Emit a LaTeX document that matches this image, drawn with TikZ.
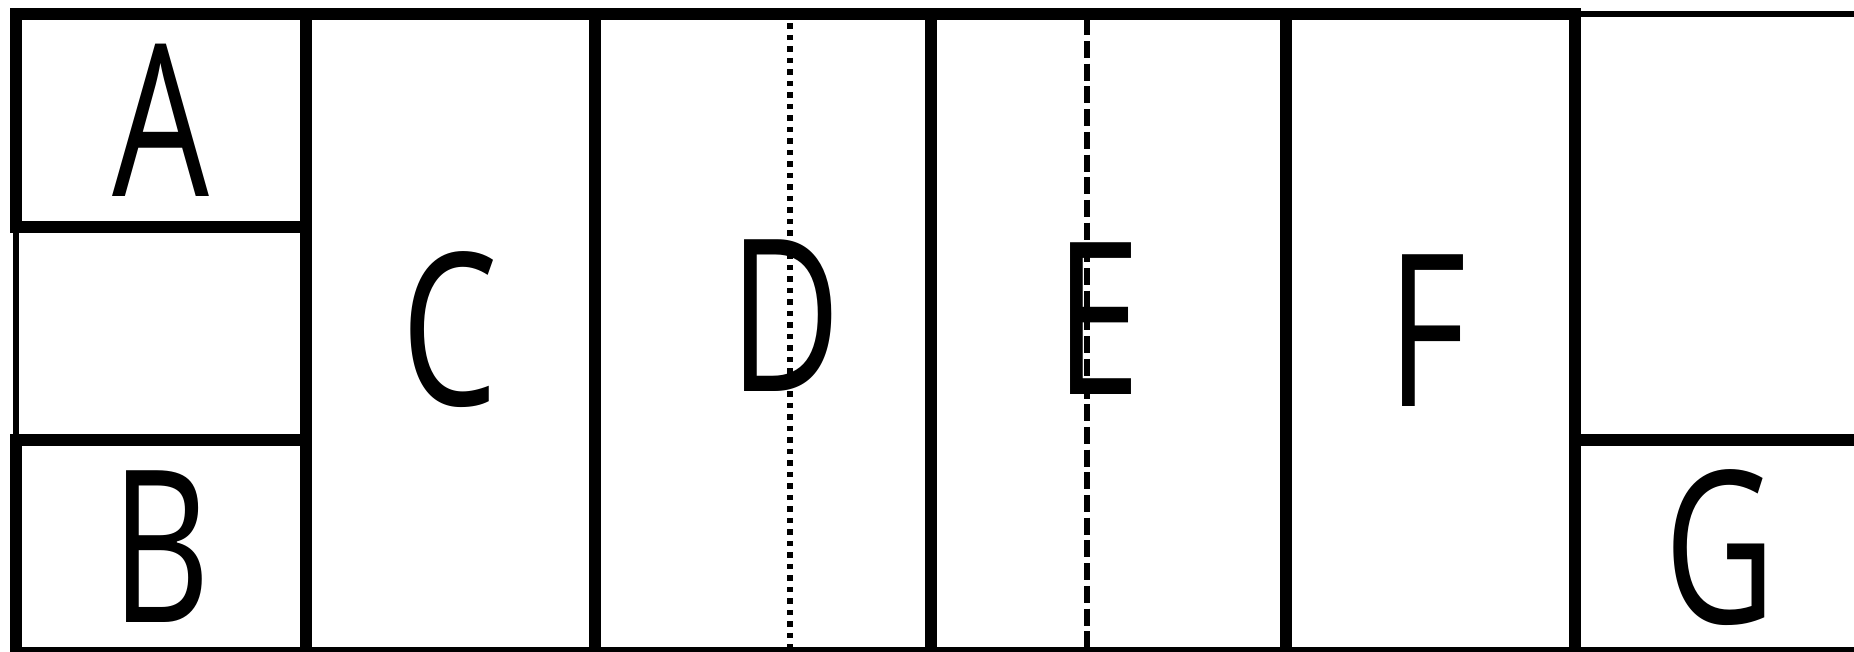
\documentclass[tikz,border=0pt]{standalone}
\usepackage{fontspec}
\setmainfont{Open Sans}

\begin{document}
\begin{tikzpicture}[
  cell/.style={draw=black,line width=1.2mm},
  thincell/.style={draw=black,line width=0.6mm},
  letter/.style={inner sep=0pt,xscale=0.72,font=\fontsize{60.5}{60}\selectfont}]
\useasboundingbox (0,0) rectangle (18.54,6.51);
\clip (0,0) rectangle (18.54,6.51);
% thin cells first, thick ones drawn over them
\draw[thincell] (0.16,4.24) rectangle (3.06,2.11);
\draw[thincell] (15.75,6.37) rectangle (18.65,2.11);
\draw[cell] (0.16,6.37) rectangle (3.06,4.24);
\draw[cell] (0.16,2.11) rectangle (3.06,-0.02);
\draw[cell] (3.06,6.37) rectangle (5.95,-0.02);
\draw[cell] (5.95,6.37) rectangle (9.31,-0.02);
\draw[cell] (9.31,6.37) rectangle (12.86,-0.02);
\draw[cell] (12.86,6.37) rectangle (15.75,-0.02);
\draw[cell] (15.75,2.11) rectangle (18.65,-0.02);
% inner guide lines
\coordinate (dtop) at (7.90,6.37);
\coordinate (dbot) at (7.90,-0.02);
\coordinate (etop) at (10.87,6.37);
\coordinate (ebot) at (10.87,-0.02);
\draw[line width=0.6mm,dash pattern=on 0.055cm off 0.06cm,dash phase=0.022cm] (dtop)--(dbot);
\draw[line width=0.6mm,dash pattern=on 0.17cm off 0.057cm,dash phase=0.184cm] (etop)--(ebot);
% letters
\node[letter] (la) at (1.61,5.31) {A};
\node[letter] (lb) at (1.61,1.04) {B};
\node[letter] (lc) at (4.50,3.21) {C};
\node[letter] (ld) at (7.85,3.35) {D};
\node[letter] (le) at (10.98,3.32) {E};
\node[letter] (lf) at (14.27,3.20) {F};
\node[letter] (lg) at (17.20,1.03) {G};
\end{tikzpicture}
\end{document}
